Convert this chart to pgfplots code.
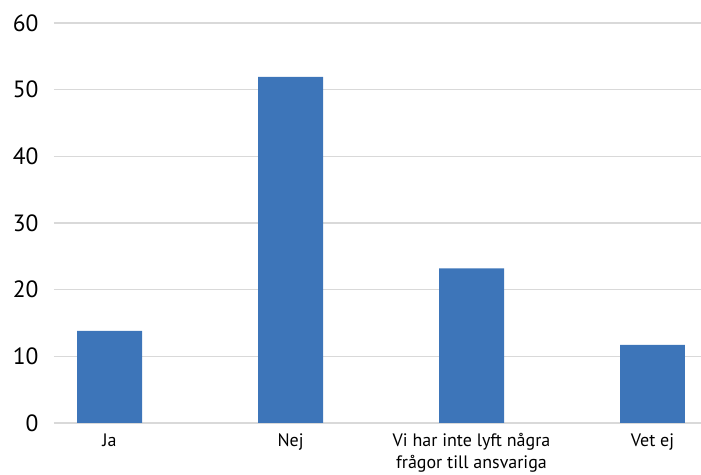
\documentclass[border=0pt]{standalone}
\usepackage{fontspec}
\setmainfont{PT Sans}
\usepackage{pgfplots}
\pgfplotsset{compat=1.18}
\definecolor{barblue}{RGB}{61,117,185}
\definecolor{gridgray}{RGB}{217,217,217}
\begin{document}
\begin{tikzpicture}
\begin{axis}[
    scale only axis,
    width=647pt, height=400pt,
    ymin=0, ymax=60,
    ytick={0,10,...,60},
    xmin=-0.307, xmax=3.268,
    xtick=data,
    xticklabels={Ja,Nej,{Vi har inte lyft några\\frågor till ansvariga},Vet ej},
    axis line style={draw=none},
    major tick length=0pt,
    ymajorgrids,
    grid style={gridgray, line width=1.2pt},
    /pgf/number format/assume math mode=true,
    yticklabel style={font=\fontsize{23.5}{26}\selectfont, anchor=east, xshift=-12pt},
    xticklabel style={font=\fontsize{18}{22}\selectfont, align=center, anchor=north, yshift=-7pt},
    ybar, bar width=0.359,
]
\addplot[fill=barblue, draw=none] coordinates {(0,13.8) (1,51.9) (2,23.2) (3,11.7)};
\end{axis}
\pgfresetboundingbox
\path[use as bounding box] ([xshift=-54pt,yshift=-52pt]current axis.south west) rectangle ([yshift=23pt]current axis.north east);
\end{tikzpicture}
\end{document}
